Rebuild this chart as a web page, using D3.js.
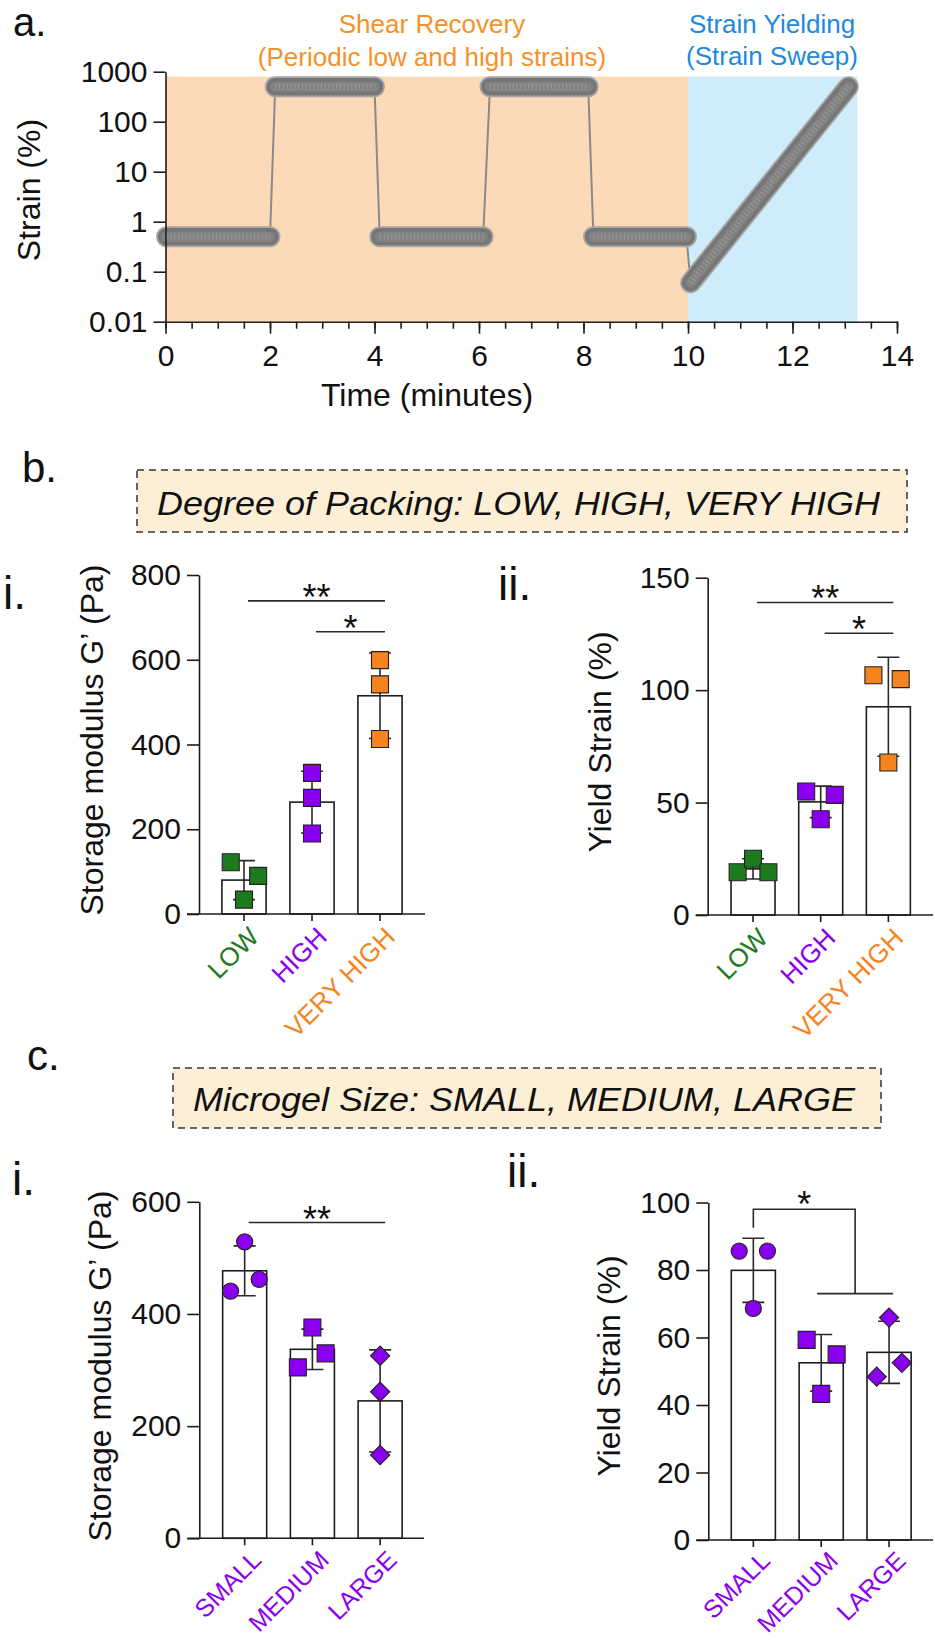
<!DOCTYPE html>
<html><head><meta charset="utf-8">
<script src="https://cdn.jsdelivr.net/npm/d3@7"></script>
<style>
body{margin:0;background:#fff}
svg{display:block}
text{font-family:"Liberation Sans",Arial,Helvetica,sans-serif;fill:#111}
</style>
</head><body>
<svg id="fig" width="935" height="1641"></svg>
<script>
// ================= DATA =================
// Panel a: strain protocol
const shearWindow = [0, 10];
const sweepWindow = [10, 13.24];
const windowTop = 800;
const stepTimes = [[0.02, 2.0], [2.1, 4.0], [4.1, 6.08], [6.21, 8.09], [8.19, 9.97]];
const stepStrain = [0.5, 500, 0.5, 500, 0.5];
const sweepTimes = [10.05, 13.07];
const sweepStrain = [0.06, 500];
const strainTicks = [0.01, 0.1, 1, 10, 100, 1000];
const strainTickLabels = ["0.01", "0.1", "1", "10", "100", "1000"];
const timeTicks = [0, 2, 4, 6, 8, 10, 12, 14];

// Panel b: degree of packing
const packingCats = ["LOW", "HIGH", "VERY HIGH"];
const packingColors = ["#1e7a1e", "#8a00ee", "#f5841e"];
const packingGMean = [80, 264, 515];
const packingGSD = [46, 73, 101];
const packingGPoints = [[122, 90, 34], [333, 274, 190], [599, 542, 413]];
const packingGTicks = [0, 200, 400, 600, 800];
const packingGSig = [{from: 0, to: 2, y: 739, label: "**"}, {from: 1, to: 2, y: 666, label: "*"}];
const packingYMean = [20.5, 50.3, 92.6];
const packingYSD = [4.5, 7, 22];
const packingYPoints = [[19, 25, 19], [54.9, 53.4, 42.6], [106.6, 104.9, 67.8]];
const packingYTicks = [0, 50, 100, 150];
const packingYSig = [{from: 0, to: 2, y: 139, label: "**"}, {from: 1, to: 2, y: 125.3, label: "*"}];

// Panel c: microgel size
const sizeCats = ["SMALL", "MEDIUM", "LARGE"];
const sizeColors = ["#8a00ee", "#8a00ee", "#8a00ee"];
const sizeShapes = ["circle", "square", "diamond"];
const sizeGMean = [477, 337, 245];
const sizeGSD = [44.5, 36, 91];
const sizeGPoints = [[528.7, 440.8, 461.7], [376, 304.8, 329.8], [325.5, 261.3, 148.5]];
const sizeGTicks = [0, 200, 400, 600];
const sizeGSig = [{from: 0, to: 2, y: 563, label: "**"}];
const sizeYMean = [79.9, 52.5, 55.6];
const sizeYSD = [9.5, 8.4, 9.2];
const sizeYPoints = [[85.6, 85.6, 68.6], [59.3, 55.0, 43.3], [65.9, 48.4, 52.5]];
const sizeYTicks = [0, 20, 40, 60, 80, 100];
const sizeYSig = [{from: 0, toGroup: [1, 2], y: 98, leftDrop: 92.5, rightDrop: 73, label: "*"}];

// horizontal scatter of replicate points (fraction of bar width) – layout only
const jitterPackG = [[-0.3, 0.32, 0], [0, 0, 0], [0, 0, 0]];
const jitterPackY = [[-0.35, 0, 0.35], [-0.33, 0.32, 0], [-0.34, 0.28, 0]];
const jitterSizeG = [[0, -0.32, 0.33], [0, -0.33, 0.3], [0, 0, 0]];
const jitterSizeY = [[-0.32, 0.32, 0], [-0.33, 0.35, 0], [0, -0.28, 0.29]];

// ================= DRAW =================
const svg = d3.select("#fig");
const INK = "#1c1c1c";

// ---------- Panel a ----------
const ax = d3.scaleLinear().domain([0, 14]).range([165.5, 897]);
const ay = d3.scaleLog().domain([0.01, 1000]).range([321.7, 71.7]);
const ga = svg.append("g");

ga.append("rect")
  .attr("x", ax(shearWindow[0])).attr("y", ay(windowTop))
  .attr("width", ax(shearWindow[1]) - ax(shearWindow[0]))
  .attr("height", ay(0.01) - ay(windowTop))
  .attr("fill", "#fcd9b7");
ga.append("rect")
  .attr("x", ax(sweepWindow[0])).attr("y", ay(windowTop))
  .attr("width", ax(sweepWindow[1]) - ax(sweepWindow[0]))
  .attr("height", ay(0.01) - ay(windowTop))
  .attr("fill", "#cfecfa");

const lineA = d3.line().x(d => ax(d[0])).y(d => ay(d[1]));
const pathPts = stepTimes.flatMap((t, i) => [[t[0], stepStrain[i]], [t[1], stepStrain[i]]])
  .concat([[sweepTimes[0], sweepStrain[0]], [sweepTimes[1], sweepStrain[1]]]);
ga.append("path").attr("d", lineA(pathPts)).attr("fill", "none")
  .attr("stroke", "#8a8a8a").attr("stroke-width", 2);

const segs = stepTimes.map((t, i) => [[t[0], stepStrain[i]], [t[1], stepStrain[i]]])
  .concat([[[sweepTimes[0], sweepStrain[0]], [sweepTimes[1], sweepStrain[1]]]]);
const bandStyles = [
  {w: 21, c: "#a6a6a6", dash: null},
  {w: 17.5, c: "#767676", dash: null},
  {w: 10, c: "#828282", dash: null},
  {w: 6, c: "#979797", dash: "1.2,2.6"}
];
bandStyles.forEach(s => {
  ga.selectAll(null).data(segs).enter().append("path")
    .attr("d", d => lineA(d)).attr("fill", "none")
    .attr("stroke", s.c).attr("stroke-width", s.w)
    .attr("stroke-linecap", s.dash ? "butt" : "round")
    .attr("stroke-dasharray", s.dash);
});

// axes a
const yAxA = ga.append("g").attr("transform", `translate(${ax(0)},0)`)
  .call(d3.axisLeft(ay).tickValues(strainTicks).tickFormat((d, i) => strainTickLabels[i])
    .tickSize(12).tickSizeOuter(0).tickPadding(6));
const xAxA = ga.append("g").attr("transform", `translate(0,${ay(0.01)})`)
  .call(d3.axisBottom(ax).tickValues(timeTicks).tickSize(12).tickSizeOuter(0).tickPadding(11));
const xMinA = ga.append("g").attr("transform", `translate(0,${ay(0.01)})`)
  .call(d3.axisBottom(ax).ticks(28).tickSize(7).tickFormat(""));
xMinA.select(".domain").remove();
[yAxA, xAxA, xMinA].forEach(g => {
  g.selectAll("path,line").attr("stroke", INK).attr("stroke-width", 1.6);
  g.selectAll("text").attr("font-size", 30).style("font-family", '"Liberation Sans",Arial,sans-serif').attr("fill", "#111");
});

ga.append("text").attr("transform", "translate(40,190) rotate(-90)")
  .attr("text-anchor", "middle").attr("font-size", 32).text("Strain (%)");
ga.append("text").attr("x", 427).attr("y", 406).attr("text-anchor", "middle")
  .attr("font-size", 32).text("Time (minutes)");
ga.append("text").attr("x", 432).attr("y", 33).attr("text-anchor", "middle")
  .attr("font-size", 26).style("fill", "#f3922a").text("Shear Recovery");
ga.append("text").attr("x", 432).attr("y", 66).attr("text-anchor", "middle")
  .attr("font-size", 26).style("fill", "#f3922a").text("(Periodic low and high strains)");
ga.append("text").attr("x", 772).attr("y", 33).attr("text-anchor", "middle")
  .attr("font-size", 26).style("fill", "#2288dd").text("Strain Yielding");
ga.append("text").attr("x", 772).attr("y", 65).attr("text-anchor", "middle")
  .attr("font-size", 26).style("fill", "#2288dd").text("(Strain Sweep)");
ga.append("text").attr("x", 13).attr("y", 36).attr("font-size", 40).text("a.");

// ---------- Section headers ----------
function header(x0, x1, y0, y1, tx0, tx1, ty, label) {
  svg.append("rect").attr("x", x0).attr("y", y0).attr("width", x1 - x0).attr("height", y1 - y0)
    .attr("fill", "#fcefd5").attr("stroke", "#333").attr("stroke-width", 1.5)
    .attr("stroke-dasharray", "7,5");
  svg.append("text").attr("x", tx0).attr("y", ty).attr("font-size", 34)
    .attr("font-style", "italic").attr("textLength", tx1 - tx0)
    .attr("lengthAdjust", "spacingAndGlyphs").text(label);
}
header(137, 907, 470, 532, 157, 880, 515, "Degree of Packing: LOW, HIGH, VERY HIGH");
header(173, 881, 1068, 1128, 193, 855, 1111, "Microgel Size: SMALL, MEDIUM, LARGE");
svg.append("text").attr("x", 22).attr("y", 482).attr("font-size", 42).text("b.");
svg.append("text").attr("x", 27).attr("y", 1070).attr("font-size", 42).text("c.");
svg.append("text").attr("x", 3).attr("y", 609).attr("font-size", 46).text("i.");
svg.append("text").attr("x", 498).attr("y", 600).attr("font-size", 46).text("ii.");
svg.append("text").attr("x", 12).attr("y", 1195).attr("font-size", 46).text("i.");
svg.append("text").attr("x", 507).attr("y", 1187).attr("font-size", 46).text("ii.");

// ---------- Bar panels ----------
function barPanel(cfg) {
  const g = svg.append("g");
  const y = d3.scaleLinear().domain([0, d3.max(cfg.ticks)]).range(cfg.yRange);
  const x = d3.scaleBand().domain(cfg.cats).range(cfg.xRange).paddingInner(0.35).paddingOuter(0.175);
  const bw = x.bandwidth();
  const cx = c => x(c) + bw / 2;
  const rows = cfg.cats.map((c, i) => ({c, i, m: cfg.means[i], sd: cfg.sds[i]}));

  // bars
  g.selectAll(null).data(rows).enter().append("rect")
    .attr("x", d => x(d.c)).attr("y", d => y(d.m))
    .attr("width", bw).attr("height", d => y(0) - y(d.m))
    .attr("fill", "#fff").attr("stroke", INK).attr("stroke-width", 1.6);
  // error bars
  const cap = 11;
  g.selectAll(null).data(rows).enter().append("path")
    .attr("d", d => {
      const xc = cx(d.c), yt = y(d.m + d.sd), yb = y(d.m - d.sd);
      return `M${xc},${yt}V${yb}M${xc - cap},${yt}H${xc + cap}M${xc - cap},${yb}H${xc + cap}`;
    })
    .attr("fill", "none").attr("stroke", "#2a2a2a").attr("stroke-width", 1.6);
  // points
  const pts = rows.flatMap(r => cfg.points[r.i].map((v, k) => ({c: r.c, i: r.i, v, k})));
  const sym = {
    square: d3.symbol().type(d3.symbolSquare).size(289),
    circle: d3.symbol().type(d3.symbolCircle).size(205),
    diamond: d3.symbol().type(d3.symbolSquare).size(185)
  };
  g.selectAll(null).data(pts).enter().append("path")
    .attr("d", d => sym[cfg.shapes[d.i]]())
    .attr("transform", d => `translate(${cx(d.c) + cfg.jitter[d.i][d.k] * bw},${y(d.v)})` +
      (cfg.shapes[d.i] === "diamond" ? " rotate(45)" : ""))
    .attr("fill", d => cfg.colors[d.i]).attr("stroke", "#222").attr("stroke-width", 1.1);

  // axes
  const ya = g.append("g").attr("transform", `translate(${cfg.axisX},0)`)
    .call(d3.axisLeft(y).tickValues(cfg.ticks).tickSize(12).tickSizeOuter(0).tickPadding(6));
  const xa = g.append("g").attr("transform", `translate(0,${y(0)})`)
    .call(d3.axisBottom(x).tickSize(7).tickSizeOuter(0).tickFormat(""));
  xa.select(".domain").remove();
  g.append("line").attr("x1", cfg.axisX - 12).attr("x2", cfg.xEnd)
    .attr("y1", y(0)).attr("y2", y(0)).attr("stroke", INK).attr("stroke-width", 1.6);
  [ya, xa].forEach(a => {
    a.selectAll("path,line").attr("stroke", INK).attr("stroke-width", 1.6);
    a.selectAll("text").attr("font-size", 30).style("font-family", '"Liberation Sans",Arial,sans-serif').attr("fill", "#111");
  });
  // category labels
  g.selectAll(null).data(rows).enter().append("text")
    .attr("transform", d => `translate(${cx(d.c) + cfg.labDx},${y(0) + cfg.labDy}) rotate(-45)`)
    .attr("text-anchor", "end").attr("dy", "0.35em").attr("font-size", cfg.labSize)
    .style("fill", d => cfg.labelColors[d.i]).text(d => d.c);
  // y title
  g.append("text").attr("transform", `translate(${cfg.titleX},${cfg.titleY}) rotate(-90)`)
    .attr("text-anchor", "middle").attr("font-size", 32).text(cfg.title);
  // significance
  cfg.sig.forEach(s => {
    const ys = y(s.y);
    if (s.toGroup) {
      const xa0 = cx(cfg.cats[s.from]);
      const g1 = cx(cfg.cats[s.toGroup[0]]), g2 = cx(cfg.cats[s.toGroup[1]]);
      const xm = (g1 + g2) / 2;
      g.append("path")
        .attr("d", `M${xa0},${y(s.leftDrop)}V${ys}H${xm}V${y(s.rightDrop)}M${g1 - 4},${y(s.rightDrop)}H${g2 + 4}`)
        .attr("fill", "none").attr("stroke", "#2a2a2a").attr("stroke-width", 1.6);
      g.append("text").attr("x", (xa0 + xm) / 2).attr("y", ys + 8).attr("text-anchor", "middle")
        .attr("font-size", 36).text(s.label);
    } else {
      const x1 = cx(cfg.cats[s.from]) + 4, x2 = cx(cfg.cats[s.to]) + 5;
      g.append("line").attr("x1", x1).attr("x2", x2).attr("y1", ys).attr("y2", ys)
        .attr("stroke", "#2a2a2a").attr("stroke-width", 1.6);
      g.append("text").attr("x", (x1 + x2) / 2).attr("y", ys + 9).attr("text-anchor", "middle")
        .attr("font-size", 36).text(s.label);
    }
  });
}

barPanel({cats: packingCats, means: packingGMean, sds: packingGSD, points: packingGPoints,
  shapes: ["square", "square", "square"], colors: packingColors, labelColors: packingColors,
  ticks: packingGTicks, yRange: [914, 575], xRange: [210, 414], axisX: 199, xEnd: 425,
  jitter: jitterPackG, title: "Storage modulus G’ (Pa)", titleX: 103, titleY: 740,
  sig: packingGSig, labDx: 10, labDy: 18, labSize: 26});
barPanel({cats: packingCats, means: packingYMean, sds: packingYSD, points: packingYPoints,
  shapes: ["square", "square", "square"], colors: packingColors, labelColors: packingColors,
  ticks: packingYTicks, yRange: [915, 577.7], xRange: [719.2, 922.2], axisX: 707.7, xEnd: 933,
  jitter: jitterPackY, title: "Yield Strain (%)", titleX: 611, titleY: 742,
  sig: packingYSig, labDx: 10, labDy: 18, labSize: 26});
barPanel({cats: sizeCats, means: sizeGMean, sds: sizeGSD, points: sizeGPoints,
  shapes: sizeShapes, colors: sizeColors, labelColors: sizeColors,
  ticks: sizeGTicks, yRange: [1538.3, 1201.8], xRange: [210.8, 414], axisX: 199.3, xEnd: 424,
  jitter: jitterSizeG, title: "Storage modulus G’ (Pa)", titleX: 111, titleY: 1366,
  sig: sizeGSig, labDx: 12, labDy: 17, labSize: 25});
barPanel({cats: sizeCats, means: sizeYMean, sds: sizeYSD, points: sizeYPoints,
  shapes: sizeShapes, colors: sizeColors, labelColors: sizeColors,
  ticks: sizeYTicks, yRange: [1540, 1202.5], xRange: [719.4, 923], axisX: 708.3, xEnd: 933,
  jitter: jitterSizeY, title: "Yield Strain (%)", titleX: 620, titleY: 1366,
  sig: sizeYSig, labDx: 12, labDy: 16, labSize: 25});
</script>
</body></html>
